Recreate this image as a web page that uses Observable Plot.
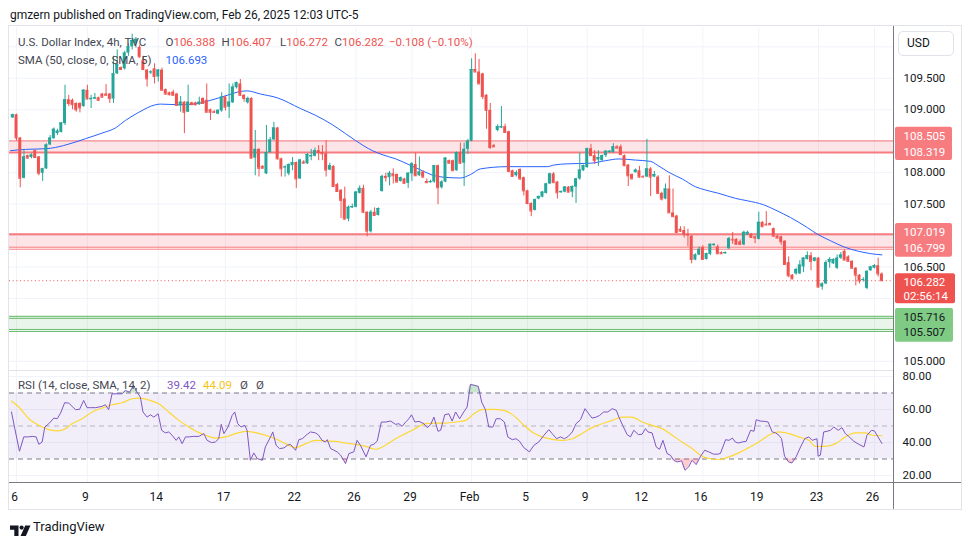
<!DOCTYPE html>
<html><head><meta charset="utf-8">
<script src="https://cdn.jsdelivr.net/npm/d3@7"></script>
<script src="https://cdn.jsdelivr.net/npm/@observablehq/plot@0.6"></script>
<style>
html,body{margin:0;padding:0;background:#fff;}
#root{position:relative;width:970px;height:545px;overflow:hidden;font-family:Roboto,"Liberation Sans",sans-serif;color:#131722;background:#fff;}
.t{position:absolute;white-space:pre;line-height:14px;}
</style></head>
<body><div id="root"></div>
<script>
// ---------------- DATA ----------------
const open = [108.87,108.92,108.55,107.91,108.27,108.24,108.35,108.25,107.99,108.06,
108.44,108.54,108.62,108.64,108.78,109.16,109.15,109.10,109.10,109.05,
109.31,109.16,109.17,109.19,109.25,109.25,109.25,109.17,109.57,109.67,
109.65,109.90,110.00,110.05,109.99,109.78,109.63,109.59,109.65,109.52,
109.63,109.32,109.27,109.28,109.25,109.06,109.12,108.96,109.11,109.11,
109.08,109.18,109.15,109.00,108.97,108.93,108.98,109.20,109.04,109.11,
109.35,109.41,109.23,109.11,109.18,108.23,108.37,108.10,107.98,108.32,
108.52,108.71,108.22,108.08,107.98,108.11,108.16,107.90,108.17,108.14,
108.25,108.26,108.35,108.32,108.30,108.04,108.10,107.81,107.72,107.58,
107.26,107.44,107.45,107.67,107.75,107.37,107.06,107.37,107.32,107.70,
107.94,107.92,107.98,107.97,107.86,107.90,107.83,107.98,108.13,107.95,
108.01,107.86,107.84,107.85,108.11,107.76,107.85,108.19,108.19,108.03,
108.32,108.15,108.37,108.50,109.64,109.60,109.57,109.23,108.99,108.43,
108.67,108.71,108.73,108.65,108.03,107.95,108.05,107.92,107.71,107.51,
107.40,107.58,107.61,107.67,107.82,107.98,107.85,107.68,107.69,107.77,
107.69,107.77,107.90,108.03,108.08,108.38,108.27,108.20,108.19,108.27,
108.32,108.32,108.41,108.41,108.27,108.12,107.97,108.00,108.03,107.94,
107.93,108.06,107.93,107.93,107.67,107.58,107.74,107.36,107.31,107.10,
107.08,107.02,106.99,106.61,106.69,106.81,106.62,106.70,106.84,106.82,
106.73,106.71,106.79,106.94,106.94,106.90,106.85,107.01,107.02,106.98,
106.94,107.21,107.18,107.19,107.11,106.99,106.98,106.91,106.57,106.37,
106.39,106.39,106.50,106.62,106.68,106.59,106.64,106.18,106.23,106.57,
106.55,106.48,106.64,106.75,106.66,106.59,106.48,106.37,106.29,106.16,
106.44,106.48,106.52,106.388];
const high = [108.93,108.93,108.56,108.35,108.28,108.30,108.36,108.26,108.07,108.46,
108.59,108.71,108.69,108.80,109.39,109.23,109.17,109.11,109.11,109.32,
109.39,109.23,109.26,109.20,109.26,109.40,109.26,109.85,109.95,109.68,
109.93,110.05,110.20,110.15,110.02,109.85,109.64,109.62,109.73,109.64,
109.66,109.33,109.28,109.31,109.26,109.21,109.13,109.39,109.12,109.12,
109.20,109.19,109.41,109.01,108.99,109.00,109.27,109.21,109.41,109.41,
109.44,109.48,109.24,109.20,109.19,108.67,108.38,108.11,108.75,108.56,
108.80,108.72,108.23,108.11,108.14,108.24,108.17,108.21,108.19,108.30,
108.37,108.39,108.43,108.43,108.51,108.15,108.11,107.83,107.73,107.77,
107.47,107.50,107.70,107.79,107.80,107.38,107.40,107.44,107.44,107.96,
107.99,108.02,108.06,107.98,107.93,107.91,108.00,108.16,108.31,108.25,
108.03,107.90,107.88,108.11,108.12,107.87,108.24,108.20,108.20,108.33,
108.47,108.47,108.53,109.81,109.89,109.80,109.58,109.24,109.10,108.45,
108.76,109.05,108.77,108.66,108.04,108.03,108.06,107.93,107.72,107.52,
107.58,107.63,107.70,107.83,107.99,108.00,107.86,107.71,107.78,107.78,
107.79,107.91,108.31,108.12,108.39,108.45,108.35,108.35,108.28,108.35,
108.35,108.46,108.43,108.44,108.28,108.13,107.98,108.06,108.10,107.95,
108.53,108.08,108.02,107.95,107.69,107.82,107.95,107.74,107.32,107.14,
107.14,107.10,107.00,106.71,106.82,106.84,106.72,106.87,106.87,106.85,
106.74,106.74,106.97,107.05,106.95,106.93,107.07,107.07,107.03,106.99,
107.37,107.22,107.38,107.20,107.12,107.00,106.99,106.92,106.66,106.38,
106.48,106.60,106.65,106.74,106.73,106.65,106.65,106.25,106.60,106.65,
106.63,106.69,106.73,106.77,106.68,106.60,106.49,106.38,106.33,106.44,
106.51,106.54,106.64,106.407];
const low = [108.86,108.50,107.76,107.90,108.22,108.22,108.23,107.95,107.86,108.05,
108.43,108.53,108.59,108.63,108.75,109.05,109.00,108.96,108.95,109.04,
109.16,109.02,109.16,109.14,109.19,109.22,109.10,109.10,109.56,109.63,
109.63,109.85,109.95,109.98,109.82,109.63,109.36,109.56,109.41,109.44,
109.30,109.23,109.22,109.22,109.06,108.96,108.62,108.96,109.07,109.06,
109.07,109.09,108.96,108.83,108.94,108.92,108.96,108.98,108.86,109.10,
109.33,109.21,109.12,109.09,108.22,107.95,107.93,108.06,107.97,108.31,
108.51,108.20,107.93,107.93,107.95,108.03,107.75,107.89,108.14,108.13,
108.19,108.25,108.19,108.19,107.93,108.03,107.77,107.69,107.27,107.25,
107.22,107.43,107.44,107.66,107.35,106.98,107.04,107.31,107.31,107.69,
107.85,107.79,107.82,107.84,107.85,107.82,107.75,107.86,107.94,107.94,
107.91,107.83,107.83,107.83,107.49,107.74,107.84,108.14,108.02,108.02,
108.13,107.78,108.29,108.49,109.59,109.41,109.16,108.69,108.37,108.40,
108.65,108.70,108.63,108.00,107.93,107.93,107.88,107.63,107.49,107.30,
107.39,107.57,107.60,107.66,107.81,107.83,107.58,107.67,107.68,107.68,
107.60,107.51,107.88,108.02,108.07,108.26,108.13,108.10,108.18,108.24,
108.31,108.31,108.38,108.27,108.10,107.78,107.89,107.99,107.91,107.92,
107.92,107.62,107.92,107.66,107.55,107.57,107.35,107.29,107.03,107.05,
106.96,106.82,106.55,106.60,106.68,106.61,106.61,106.68,106.83,106.70,
106.70,106.70,106.78,106.86,106.85,106.84,106.84,107.00,106.96,106.87,
106.93,107.13,107.15,107.16,106.98,106.95,106.84,106.54,106.33,106.30,
106.37,106.38,106.41,106.61,106.44,106.58,106.17,106.13,106.22,106.48,
106.54,106.46,106.62,106.60,106.58,106.47,106.20,106.23,106.26,106.14,
106.43,106.47,106.34,106.272];
const close = [108.92,108.55,107.91,108.25,108.23,108.28,108.24,107.99,108.06,108.44,
108.55,108.69,108.66,108.79,109.16,109.10,109.08,109.00,109.03,109.31,
109.17,109.18,109.19,109.15,109.20,109.23,109.18,109.57,109.72,109.64,
109.90,110.00,110.10,110.12,109.84,109.64,109.49,109.60,109.53,109.63,
109.31,109.25,109.24,109.23,109.07,109.12,108.96,109.12,109.08,109.08,
109.12,109.10,108.96,108.96,108.96,108.99,109.20,109.04,109.12,109.36,
109.43,109.23,109.18,109.18,108.23,108.37,108.07,108.07,108.32,108.52,
108.71,108.22,108.06,108.09,108.13,108.16,107.90,108.20,108.15,108.29,
108.27,108.35,108.32,108.30,108.04,108.11,107.78,107.70,107.56,107.26,
107.45,107.46,107.69,107.75,107.37,107.07,107.37,107.32,107.43,107.94,
107.92,107.99,107.95,107.85,107.92,107.83,107.99,108.14,107.95,108.01,
107.93,107.84,107.86,108.11,107.76,107.85,108.23,108.15,108.03,108.32,
108.15,108.37,108.50,109.64,109.60,109.41,109.21,108.99,108.40,108.41,
108.73,108.73,108.64,108.02,107.94,108.00,107.90,107.71,107.51,107.39,
107.57,107.62,107.69,107.82,107.98,107.84,107.68,107.70,107.77,107.69,
107.78,107.90,108.04,108.11,108.38,108.27,108.19,108.24,108.27,108.34,
108.34,108.41,108.39,108.29,108.11,107.95,107.90,108.04,107.93,107.93,
108.06,107.93,107.97,107.67,107.58,107.74,107.36,107.30,107.05,107.07,
107.02,107.01,106.62,106.69,106.78,106.62,106.71,106.86,106.86,106.71,
106.71,106.73,106.95,106.93,106.86,106.86,107.05,107.05,106.97,106.96,
107.21,107.14,107.17,107.17,106.99,106.96,106.90,106.54,106.36,106.31,
106.46,106.53,106.64,106.68,106.59,106.64,106.18,106.23,106.57,106.62,
106.62,106.64,106.69,106.61,106.59,106.48,106.37,106.28,106.30,106.43,
106.50,106.52,106.39,106.282];

// SMA(50) line (bar index, value)
const smaX = [-0.6,3.4,8.8,11.4,15.9,19.5,24.0,27.5,30.2,33.8,38.3,39.6,44.1,48.5,53.0,57.5,60.2,62.8,66.4,70.9,77.1,81.2,85.6,89.2,91.9,96.4,99.0,102.6,106.2,109.8,112.4,116.0,120.0,122.7,125.4,132.5,137.9,143.3,145.0,148.6,154.9,158.9,162.5,166.9,170.9,172.8,175.9,179.5,183.0,185.7,189.3,193.8,196.9,201.3,204.9,208.5,213.0,215.7,219.3,222.8,226.4,230.0,233];
const smaV = [108.35,108.37,108.38,108.40,108.47,108.54,108.63,108.71,108.83,108.96,109.08,109.09,109.08,109.09,109.15,109.23,109.28,109.30,109.25,109.19,109.02,108.91,108.765,108.62,108.51,108.35,108.287,108.22,108.127,108.03,107.963,107.925,107.915,107.97,108.06,108.095,108.095,108.095,108.12,108.14,108.15,108.19,108.218,108.20,108.18,108.12,108.004,107.899,107.776,107.724,107.67,107.59,107.553,107.489,107.393,107.286,107.127,107.022,106.915,106.82,106.755,106.712,106.693];

// RSI(14) (bar index, value)
const rsiX = [-0.35,0.54,1.79,2.95,4.12,5.19,6.26,6.98,7.87,8.59,9.66,11.0,11.9,12.8,13.9,15.0,15.9,16.8,17.9,19.0,19.9,20.8,22.2,23.95,24.8,25.7,26.6,27.98,29.3,30.2,31.3,32.4,33.3,34.2,34.9,36.0,36.9,37.8,38.97,39.9,40.9,41.8,42.7,43.8,44.5,45.4,46.3,47.2,48.5,49.9,51.2,52.1,53.3,54.3,55.2,55.9,56.6,57.7,58.8,59.5,60.3,61.2,62.2,62.8,63.7,64.6,65.5,66.9,67.7,69.1,69.7,70.6,71.5,72.7,73.6,74.4,75.8,76.7,77.6,78.3,78.9,79.8,81.2,82.0,82.9,83.8,84.3,85.2,86.1,86.96,87.9,88.7,89.2,90.1,91.4,92.3,93.2,94.7,95.9,96.8,97.7,98.8,99.9,101.3,102.6,103.5,104.4,105.3,106.2,106.9,107.8,108.9,110.2,111.1,112.0,112.9,114.0,114.7,115.8,
116.9,117.8,118.7,119.8,120.9,121.8,122.7,123.9,124.8,125.7,126.7,127.6,128.7,129.6,130.7,131.8,132.7,133.9,134.9,135.8,137.0,138.5,139.7,141.0,142.4,143.7,144.6,145.8,146.8,147.9,148.9,150.0,151.0,152.2,153.4,154.4,155.3,156.4,157.3,158.4,159.5,160.7,161.8,162.5,163.5,164.7,165.6,166.5,167.7,168.7,169.6,170.3,171.4,172.5,173.4,174.3,175.4,176.3,177.2,178.1,179.3,180.2,181.2,182.1,183.2,184.4,185.5,186.6,187.9,188.8,189.7,191.1,192.0,192.9,193.7,194.5,195.5,196.6,197.8,198.7,199.3,200.4,201.6,202.5,203.6,204.5,205.4,206.1,206.9,208.0,208.9,210.0,211.2,212.3,213.4,214.3,215.6,215.9,216.5,217.4,218.3,219.2,220.1,221.3,222.3,223.2,224.1,225.5,226.8,228.2,229.0,230.2,231.0,233];
const rsiV = [58.5,48.4,34.7,43.4,43.4,43.7,43.4,38.9,40.3,49.4,51.4,54.8,54.4,57.8,64.1,63.9,61.9,59.9,60.1,65.5,61.1,61.1,61.1,61.9,62.9,59.9,69.5,69.5,69.5,71.5,70.5,74.6,70.5,67.5,58.5,55.4,56.8,55.4,57.4,47.4,45.8,46.4,44.4,41.3,43.4,39.3,43.4,43.4,43.7,43.7,45.4,41.3,39.9,40.3,42.3,51.0,45.4,49.4,56.4,58.5,51.4,49.4,50.4,47.4,29.2,33.7,30.3,29.2,37.3,43.4,46.4,38.3,36.3,36.7,38.3,38.9,35.3,41.7,42.3,43.7,44.9,46.4,45.8,44.4,41.3,40.3,41.7,36.3,35.3,34.3,32.3,29.2,27.2,33.3,34.3,41.3,38.3,31.3,38.3,38.9,40.9,52.4,52.4,53.0,51.0,51.4,49.8,52.4,54.4,56.8,52.4,52.8,51.4,49.0,50.8,55.4,46.8,47.4,56.8,
57.4,53.0,58.5,54.4,58.5,61.5,75.2,74.6,74.0,64.5,59.9,49.4,49.4,54.4,54.4,52.4,43.4,41.7,42.3,40.9,36.9,34.3,38.3,40.3,44.4,47.8,45.4,42.3,43.4,42.3,43.7,46.4,51.4,53.8,60.5,57.4,54.8,55.4,56.4,58.5,58.5,60.5,59.5,55.4,50.4,44.8,43.4,47.4,44.8,45.0,48.4,46.4,45.8,37.3,35.9,41.3,33.3,32.3,29.2,28.2,28.9,23.2,25.2,29.2,26.6,31.7,35.3,34.3,32.9,32.9,33.3,41.7,41.3,42.7,40.3,39.7,40.3,40.7,47.4,46.8,53.8,53.0,52.8,52.4,46.4,45.8,44.4,42.3,31.7,28.2,27.6,31.3,37.3,42.3,43.4,41.3,42.3,31.7,32.3,46.4,46.8,47.4,49.4,47.4,49.0,45.4,43.7,40.7,38.9,37.3,44.4,47.4,47.0,39.42];

// RSI-based MA(14)
const rsiMaX = [-0.35,1.6,4.3,6.98,9.66,12.3,14.1,15.9,18.6,21.3,23.95,26.6,29.3,32.0,33.8,37.4,39.1,41.8,44.5,47.2,49.9,51.7,54.3,57.0,59.7,62.4,65.1,67.7,70.4,73.1,75.8,78.5,81.2,83.8,86.5,89.2,91.9,94.6,97.2,99.9,102.6,105.3,107.9,110.6,113.3,116.0,118.7,121.4,123.6,125.8,128.5,131.6,134.8,136.6,139.2,141.9,144.6,147.3,150.0,152.6,155.3,158.0,160.7,163.4,166.0,168.7,171.4,174.1,176.8,179.4,182.1,184.8,186.6,189.3,192.0,194.6,197.3,200.0,202.7,205.4,208.0,210.7,213.4,215.2,217.9,220.6,223.2,225.9,228.6,230.4,233];
const rsiMaV = [65.1,61.5,54.4,50.4,47.8,47.0,48.4,51.4,54.4,58.5,60.9,62.9,64.1,66.5,66.9,65.1,63.5,58.5,53.4,49.4,46.0,44.4,42.7,43.4,45.4,46.8,46.0,44.4,42.3,39.3,36.9,39.3,41.3,40.9,40.7,39.7,38.9,37.7,35.9,38.3,42.3,45.4,48.4,51.4,51.8,51.8,52.4,53.4,57.4,59.9,60.1,59.5,55.4,51.4,46.4,43.4,41.9,41.3,42.3,45.4,49.0,51.4,53.4,55.4,55.4,52.4,50.4,48.4,44.4,40.3,36.3,31.7,30.3,29.7,31.3,33.7,36.9,40.3,44.4,46.4,45.4,43.4,41.3,37.7,37.7,39.3,43.4,45.8,45.8,44.4,44.09];

// Drawn levels
const band1 = [108.505, 108.319];
const band2 = [107.019, 106.799];
const bandG = [105.716, 105.507];
const lastPrice = 106.282;
const smaLast = 106.693;

// Axes
const tickIdx = [1,20,39,57,76,92,107,123,138,154,169,185,200,216,231];
const tickLabels = ["6","9","14","17","22","26","29","Feb","5","9","12","16","19","23","26"];
const priceGrid = [105.0,105.5,106.0,106.5,107.0,107.5,108.0,108.5,109.0,109.5,110.0];
const priceLabels = [105.0,106.5,107.5,108.0,109.0,109.5];
const rsiGrid = [20,40,60,80];

// ---------------- RENDER ----------------
const UP = "#26a69a", DN = "#ef5350";
const RED_LINE = "#f77c80", GREEN_LINE = "#66bb6a";
const W = 884;
const xDom = [-0.885, 236.11];
const pDom = [104.8386, 110.3076];
const rDom = [15.76, 83.03];
const FONT = "Roboto, 'Liberation Sans', sans-serif";

const candles = close.map((c, i) => ({i, o: open[i], h: high[i], l: low[i], c}));
const ups = candles.filter(d => d.c >= d.o);
const dns = candles.filter(d => d.c < d.o);
const bw = 0.4;
function candleMarks(data, color) {
  return [
    Plot.ruleX(data, {x: "i", y1: "l", y2: "h", stroke: color, strokeWidth: 1}),
    Plot.rect(data, {x1: d => d.i - bw, x2: d => d.i + bw, y1: d => Math.min(d.o, d.c), y2: d => Math.max(d.o, d.c), fill: color}),
    Plot.ruleY(data, {x1: d => d.i - bw, x2: d => d.i + bw, y: "c", stroke: color, strokeWidth: 1})
  ];
}
const smaPts = smaX.map((x, k) => ({i: x, v: smaV[k]}));
const rsiPts = rsiX.map((x, k) => ({i: x, v: rsiV[k]}));
const rsiMaPts = rsiMaX.map((x, k) => ({i: x, v: rsiMaV[k]}));

const pricePlot = Plot.plot({
  width: W, height: 344, margin: 0,
  x: {domain: xDom, axis: null},
  y: {domain: pDom, axis: null},
  style: {background: "transparent", overflow: "visible", fontFamily: FONT},
  marks: [
    Plot.ruleY(priceGrid, {stroke: "#f0f3fa"}),
    Plot.ruleX(tickIdx, {stroke: "#f0f3fa"}),
    Plot.rect([band1], {x1: xDom[0], x2: xDom[1], y1: d => d[0], y2: d => d[1], fill: "#f23645", fillOpacity: 0.13}),
    Plot.rect([band2], {x1: xDom[0], x2: xDom[1], y1: d => d[0], y2: d => d[1], fill: "#f23645", fillOpacity: 0.13}),
    Plot.rect([bandG], {x1: xDom[0], x2: xDom[1], y1: d => d[0], y2: d => d[1], fill: "#4caf50", fillOpacity: 0.12}),
    Plot.ruleY([band1[0]], {stroke: RED_LINE, strokeWidth: 1}),
    Plot.ruleY([band1[1]], {stroke: RED_LINE, strokeWidth: 2}),
    Plot.ruleY([band2[0]], {stroke: RED_LINE, strokeWidth: 2}),
    Plot.ruleY([band2[1]], {stroke: RED_LINE, strokeWidth: 1, dy: -1}),
    Plot.ruleY([band2[1]], {stroke: RED_LINE, strokeWidth: 1, dy: 1}),
    Plot.ruleY(bandG, {stroke: GREEN_LINE, strokeWidth: 1}),
    Plot.ruleY(bandG, {stroke: GREEN_LINE, strokeWidth: 1, dy: 2}),
    Plot.line(smaPts, {x: "i", y: "v", stroke: "#2962ff", strokeWidth: 1, curve: "monotone-x"}),
    ...candleMarks(ups, UP),
    ...candleMarks(dns, DN),
    Plot.ruleY([lastPrice], {stroke: DN, strokeWidth: 1, strokeDasharray: "1,2.7"})
  ]
});

function tag(v1, v2, top, bottom, fill, right) {
  return Plot.rect([[v1, v2]], {x1: 2, x2: right, y1: d => d[0], y2: d => d[1], insetTop: -top, insetBottom: -bottom, fill, rx: 2});
}
function tagText(v, txt, dy, color) {
  return Plot.text([v], {y: d => d, frameAnchor: "left", dx: 10, dy, text: () => txt, fill: color, fontSize: 11.5, textAnchor: "start"});
}
const axisPlot = Plot.plot({
  width: 69, height: 344, margin: 0,
  x: {domain: [0, 69], axis: null},
  y: {domain: pDom, axis: null},
  style: {background: "transparent", overflow: "visible", fontFamily: FONT},
  marks: [
    Plot.text(priceLabels, {y: d => d, frameAnchor: "left", dx: 10, text: d => d.toFixed(3), fill: "#131722", fontSize: 11.5, textAnchor: "start"}),
    tag(band1[0], band1[1], 13.7, 7.9, "#f77c80", 59),
    tagText(band1[0], band1[0].toFixed(3), -4.4, "#fff"),
    tagText(band1[1], band1[1].toFixed(3), 0.2, "#fff"),
    tag(band2[0], band2[1], 10.9, 9, "#f77c80", 59),
    tagText(band2[0], band2[0].toFixed(3), -2.2, "#fff"),
    tagText(band2[1], band2[1].toFixed(3), 0.6, "#fff"),
    tag(lastPrice, lastPrice, 6.9, 23.1, "#ef5350", 62),
    tagText(lastPrice, lastPrice.toFixed(3), 1.5, "#fff"),
    tagText(lastPrice, "02:56:14", 15.5, "#fff"),
    tag(bandG[0], bandG[1], 7.8, 12.7, "#7fcb83", 60),
    tagText(bandG[0], bandG[0].toFixed(3), 1.5, "#131722"),
    tagText(bandG[1], bandG[1].toFixed(3), 2.7, "#131722")
  ]
});

const rsiPlot = Plot.plot({
  width: W, height: 138, marginTop: 0, marginLeft: 0, marginRight: 0, marginBottom: 27,
  x: {domain: xDom},
  y: {domain: rDom, axis: null},
  style: {background: "transparent", overflow: "visible", fontFamily: FONT, fontSize: "12px", color: "#131722"},
  marks: [
    Plot.ruleY(rsiGrid, {stroke: "#f0f3fa"}),
    Plot.ruleX(tickIdx, {stroke: "#f0f3fa"}),
    Plot.rect([[30, 70]], {x1: xDom[0], x2: xDom[1], y1: d => d[0], y2: d => d[1], fill: "#7e57c2", fillOpacity: 0.1}),
    Plot.ruleY([70, 30], {stroke: "#787b86", strokeDasharray: "5,4"}),
    Plot.ruleY([50], {stroke: "#787b86", strokeOpacity: 0.5, strokeDasharray: "5,4"}),
    Plot.areaY(rsiPts, {x: "i", y1: 70, y2: d => Math.max(70, d.v), fill: "#4caf50", fillOpacity: 0.3}),
    Plot.areaY(rsiPts, {x: "i", y1: 30, y2: d => Math.min(30, d.v), fill: "#f23645", fillOpacity: 0.25}),
    Plot.line(rsiMaPts, {x: "i", y: "v", stroke: "#fdd835", strokeWidth: 1.2, curve: "monotone-x"}),
    Plot.line(rsiPts, {x: "i", y: "v", stroke: "#7e57c2", strokeWidth: 1}),
    Plot.axisX(tickIdx, {anchor: "bottom", label: null, tickSize: 0, tickPadding: 10, dx: -2, tickFormat: d => tickLabels[tickIdx.indexOf(d)], fontSize: 12, fill: "#131722"})
  ]
});

const rsiAxisPlot = Plot.plot({
  width: 69, height: 111, margin: 0,
  x: {domain: [0, 69], axis: null},
  y: {domain: rDom, axis: null},
  style: {background: "transparent", overflow: "visible", fontFamily: FONT},
  marks: [
    Plot.text(rsiGrid, {y: d => d, frameAnchor: "left", dx: 9, text: d => d.toFixed(2), fill: "#131722", fontSize: 11.5, textAnchor: "start"})
  ]
});

const root = document.getElementById("root");
function put(el, l, t) { el.style.position = "absolute"; el.style.left = l + "px"; el.style.top = t + "px"; root.appendChild(el); return el; }
function box(l, t, w, h, bg) { const d = document.createElement("div"); d.style.width = w + "px"; d.style.height = h + "px"; d.style.background = bg; return put(d, l, t); }
function txt(s, l, t, color, size, weight) { const d = document.createElement("div"); d.className = "t"; d.textContent = s; d.style.color = color; d.style.fontSize = size + "px"; if (weight) d.style.fontWeight = weight; return put(d, l, t); }

put(pricePlot, 9, 27);
put(axisPlot, 893, 27);
put(rsiPlot, 9, 371);
put(rsiAxisPlot, 893, 371);

// frame & separators
box(8, 25, 954, 1, "#e0e3eb");
box(8, 25, 1, 485, "#e0e3eb");
box(961, 25, 1, 485, "#e0e3eb");
box(8, 509, 954, 1, "#e0e3eb");
box(9, 370, 884, 1, "#e0e3eb");
box(9, 482, 952, 1, "#787b86");
box(893, 26, 1, 483, "#787b86");

// USD box
const usd = document.createElement("div");
usd.style.cssText = "width:56px;height:25px;border:1px solid #e0e3eb;border-radius:5px;box-sizing:border-box;font-size:12px;line-height:23px;padding-left:8px;color:#131722;background:#fff;";
usd.textContent = "USD";
put(usd, 898, 31);

// header
txt("gmzern published on TradingView.com, Feb 26, 2025 12:03 UTC-5", 10, 8, "#131722", 12);

// legend line 1
const G = "#434651", R = "#ef5350";
txt("U.S. Dollar Index, 4h, TVC", 18, 35, G, 11.5);
const ohlc = [["O", open[233], 165.5], ["H", high[233], 221.5], ["L", low[233], 280], ["C", close[233], 334.5]];
ohlc.forEach(([k, v, x]) => {
  const d = document.createElement("div"); d.className = "t"; d.style.fontSize = "11.5px";
  d.innerHTML = `<span style="color:${G}">${k}</span><span style="color:${R}">${v.toFixed(3)}</span>`;
  put(d, x, 35);
});
const chg = close[233] - close[232];
txt("\u2212" + Math.abs(chg).toFixed(3) + " (\u2212" + Math.abs(chg / close[232] * 100).toFixed(2) + "%)", 389, 35, R, 11.5);
// legend line 2
txt("SMA (50, close, 0, SMA, 5)", 18, 53, G, 11.5);
txt(smaLast.toFixed(3), 165.5, 53, "#2962ff", 11.5);
// RSI legend
txt("RSI (14, close, SMA, 14, 2)", 18, 378, G, 11.5);
txt(rsiV[rsiV.length - 1].toFixed(2), 167, 378, "#7e57c2", 11.5);
txt(rsiMaV[rsiMaV.length - 1].toFixed(2), 203, 378, "#f2c418", 11.5);
txt("\u00d8", 240, 378, G, 11.5);
txt("\u00d8", 256, 378, G, 11.5);

// TradingView logo
const logo = document.createElement("div");
logo.innerHTML = `<svg width="22" height="12" viewBox="0 0 22 12"><path d="M0 0.5h8.5v10.5h-4.2v-6.3h-4.3z" fill="#131722"/><circle cx="11.6" cy="2.6" r="2.1" fill="#131722"/><path d="M15.2 0.5h5.3l-4.6 10.5h-5.3z" fill="#131722"/></svg>`;
put(logo, 10, 522);
txt("TradingView", 33, 520, "#131722", 13);
</script></body></html>
